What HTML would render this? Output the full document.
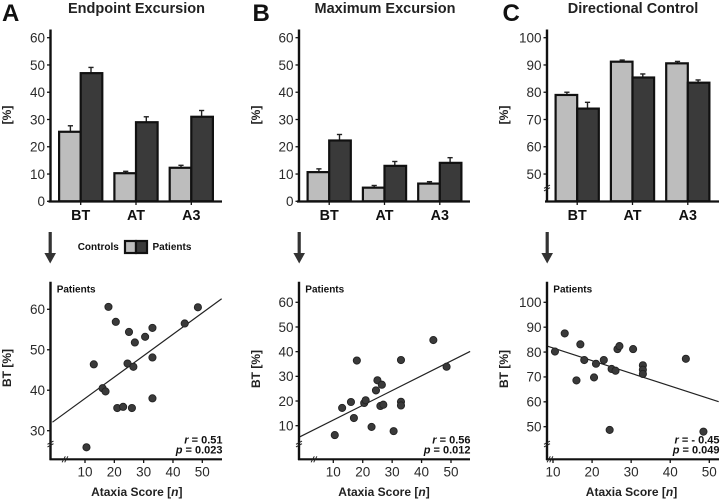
<!DOCTYPE html>
<html lang="en">
<head>
<meta charset="utf-8">
<title>Endpoint Excursion, Maximum Excursion, Directional Control</title>
<style>
html,body{margin:0;padding:0;background:#fff;}
svg{display:block;font-family:"Liberation Sans",sans-serif;fill:#222;}
.panel{font-size:24px;font-weight:bold;fill:#111;}
.title{font-size:14.5px;font-weight:bold;text-anchor:middle;}
.tick{font-size:13.5px;fill:#2a2a2a;}
.cat{font-size:14.3px;font-weight:bold;text-anchor:middle;fill:#111;}
.ylab{font-size:12px;font-weight:bold;text-anchor:middle;}
.xlab{font-size:12px;font-weight:bold;text-anchor:middle;}
.small{font-size:10px;font-weight:bold;fill:#111;}
.stat{font-size:11px;font-weight:bold;text-anchor:end;fill:#111;}
</style>
</head>
<body>
<svg id="figure" width="720" height="500" viewBox="0 0 720 500" xmlns="http://www.w3.org/2000/svg">
  <text class="panel" x="2" y="21">A</text>
  <text class="panel" x="252.5" y="21">B</text>
  <text class="panel" x="502.5" y="21">C</text>
  <text class="title" x="136.5" y="13">Endpoint Excursion</text>
  <text class="title" x="385" y="13">Maximum Excursion</text>
  <text class="title" x="633" y="13">Directional Control</text>

  <text class="ylab" transform="translate(11,115) rotate(-90)">[%]</text>
  <text class="ylab" transform="translate(260,115) rotate(-90)">[%]</text>
  <text class="ylab" transform="translate(508,115) rotate(-90)">[%]</text>

  <g>
    <text class="small" x="77.7" y="250">Controls</text>
    <rect x="125" y="241" width="11" height="12" fill="#bdbdbd" stroke="#111" stroke-width="2.2"/>
    <rect x="136" y="241" width="11" height="12" fill="#3a3a3a" stroke="#111" stroke-width="2.2"/>
    <text class="small" x="152.5" y="250">Patients</text>
  </g>

  <path d="M48.6 232h3.2v21h4.2l-5.8 10.5l-5.8-10.5h4.2z" fill="#333"/>
  <path d="M297.6 232h3.2v21h4.2l-5.8 10.5l-5.8-10.5h4.2z" fill="#333"/>
  <path d="M545.6 232h3.2v21h4.2l-5.8 10.5l-5.8-10.5h4.2z" fill="#333"/>

  <text class="small" x="56.7" y="292.7">Patients</text>
  <text class="small" x="305.3" y="292.7">Patients</text>
  <text class="small" x="553.3" y="292.7">Patients</text>

  <text class="ylab" transform="translate(11,368) rotate(-90)">BT [%]</text>
  <text class="ylab" transform="translate(260,369) rotate(-90)">BT [%]</text>
  <text class="ylab" transform="translate(508,369) rotate(-90)">BT [%]</text>

  <text class="xlab" x="136.8" y="496">Ataxia Score [<tspan font-style="italic">n</tspan>]</text>
  <text class="xlab" x="384" y="496">Ataxia Score [<tspan font-style="italic">n</tspan>]</text>
  <text class="xlab" x="631.5" y="496">Ataxia Score [<tspan font-style="italic">n</tspan>]</text>

  <text class="stat" x="222.5" y="443.5"><tspan font-style="italic">r</tspan> = 0.51</text>
  <text class="stat" x="222.5" y="453.5"><tspan font-style="italic">p</tspan> = 0.023</text>
  <text class="stat" x="470.5" y="443.5"><tspan font-style="italic">r</tspan> = 0.56</text>
  <text class="stat" x="470.5" y="453.5"><tspan font-style="italic">p</tspan> = 0.012</text>
  <text class="stat" x="719.5" y="443.5"><tspan font-style="italic">r</tspan> = - 0.45</text>
  <text class="stat" x="719.5" y="453.5"><tspan font-style="italic">p</tspan> = 0.049</text>
</svg>
<script>
const barCategories = ['BT', 'AT', 'A3'];

const barTicksA = [0, 10, 20, 30, 40, 50, 60];
const controlsA = [25.5, 10.3, 12.3];
const patientsA = [47, 29, 31];
const controlsErrTopA = [27.7, 11, 13.2];
const patientsErrTopA = [49.1, 31, 33.3];

const barTicksB = [0, 10, 20, 30, 40, 50, 60];
const controlsB = [10.7, 5, 6.5];
const patientsB = [22.3, 13, 14.1];
const controlsErrTopB = [11.9, 5.8, 7.2];
const patientsErrTopB = [24.5, 14.6, 16];

const barTicksC = [50, 60, 70, 80, 90, 100];
const controlsC = [79, 91.2, 90.6];
const patientsC = [74, 85.4, 83.5];
const controlsErrTopC = [80, 91.8, 91.3];
const patientsErrTopC = [76.3, 86.7, 84.5];

const ataxiaScores = [10.5, 13, 16, 17, 18, 20.5, 21, 23, 24.5, 25, 26, 26.5, 27, 30.5, 33, 33, 33, 44, 48.5];
const scatterValuesA = [25.9, 46.4, 40.5, 39.7, 60.6, 56.9, 35.6, 35.9, 46.6, 54.4, 35.6, 45.8, 51.8, 53.2, 55.4, 48.1, 38, 56.5, 60.5];
const scatterValuesB = [6.2, 17.2, 19.6, 13.1, 36.4, 19.2, 20.3, 9.5, 24.3, 28.4, 18, 26.6, 18.5, 7.8, 36.6, 19.7, 18.2, 44.7, 33.9];
const scatterValuesC = [80.2, 87.5, 68.6, 83.1, 76.8, 69.8, 75.3, 76.8, 48.7, 73.2, 72.5, 81.2, 82.4, 81.2, 74.7, 72.9, 71.2, 77.3, 48];

const scatterXTicks = [10, 20, 30, 40, 50];
const scatterYTicksA = [30, 40, 50, 60];
const scatterYTicksB = [10, 20, 30, 40, 50, 60];
const scatterYTicksC = [50, 60, 70, 80, 90, 100];

const trendXA = [-1.1, 56.6];
const trendYA = [32.1, 62.6];
const trendXB = [-1.7, 56.5];
const trendYB = [5.3, 40.1];
const trendXC = [8.5, 52.4];
const trendYC = [82.4, 60.05];

const svg = document.getElementById('figure');
const NS = 'http://www.w3.org/2000/svg';

function make(tag, attrs, parent) {
  const el = document.createElementNS(NS, tag);
  for (const k in attrs) el.setAttribute(k, attrs[k]);
  parent.appendChild(el);
  return el;
}
function linearScale(v0, p0, v1, p1) {
  return function (v) { return p0 + (v - v0) * (p1 - p0) / (v1 - v0); };
}
function drawBreak(cx, cy, horizontal, parent) {
  const g = make('g', {stroke: '#222', 'stroke-width': 1, fill: 'none'}, parent);
  
  
  for (const d of [-1.3, 1.3]) {
    if (horizontal) make('line', {x1: cx + d - 1.6, y1: cy + 3, x2: cx + d + 1.6, y2: cy - 3}, g);
    else make('line', {x1: cx - 3, y1: cy + d + 1.6, x2: cx + 3, y2: cy + d - 1.6}, g);
  }
}
function drawYAxis(name, axisX, top, bottom, ticks, y, parent) {
  const g = make('g', {}, parent);
  
  
  make('line', {x1: axisX, y1: top, x2: axisX, y2: bottom, stroke: '#111', 'stroke-width': 2.4}, g);
  ticks.forEach(function (t) {
    make('line', {x1: axisX - 3.5, y1: y(t), x2: axisX, y2: y(t), stroke: '#111', 'stroke-width': 1.3}, g);
    const label = make('text', {class: 'tick', x: axisX - 5.5, y: y(t) + 4.8, 'text-anchor': 'end'}, g);
    label.textContent = t;
  });
}

function drawBars(name, cfg, ctrl, pat, ctrlErr, patErr, ticks) {
  const g = make('g', {}, svg);
  
  
  const y = linearScale(cfg.vBase, 201.3, cfg.vTop, 37.7);
  const barW = 21.6;
  const step = 55.3;
  function errorBar(cx, from, to, parent) {
    make('line', {x1: cx, y1: y(from), x2: cx, y2: y(to), stroke: '#222', 'stroke-width': 1.4}, parent);
    make('line', {x1: cx - 2.6, y1: y(to), x2: cx + 2.6, y2: y(to), stroke: '#222', 'stroke-width': 1.4}, parent);
  }
  barCategories.forEach(function (cat, i) {
    const left = cfg.axisX + 8.6 + i * step;
    errorBar(left + barW / 2 + 0.5, ctrl[i], ctrlErr[i], g);
    errorBar(left + barW * 1.5 - 0.5, pat[i], patErr[i], g);
    const c = make('rect', {x: left, y: y(ctrl[i]), width: barW, height: 201.3 - y(ctrl[i]), fill: '#bdbdbd', stroke: '#111', 'stroke-width': 2.2}, g);
    
    
    const p = make('rect', {x: left + barW, y: y(pat[i]), width: barW, height: 201.3 - y(pat[i]), fill: '#3a3a3a', stroke: '#111', 'stroke-width': 2.2}, g);
    
    
    make('line', {x1: left + barW, y1: 201.3, x2: left + barW, y2: 205, stroke: '#111', 'stroke-width': 1.3}, g);
    const label = make('text', {class: 'cat', x: left + barW, y: 220}, g);
    
    
    label.textContent = cat;
  });
  drawYAxis(name + '-y-axis', cfg.axisX, 29.5, 202.5, ticks, y, g);
  make('line', {x1: cfg.axisX - 2, y1: 201.5, x2: cfg.xEnd, y2: 201.5, stroke: '#111', 'stroke-width': 2.2}, g);
  if (cfg.breakY) drawBreak(cfg.axisX, cfg.breakY, false, g);
}

function drawScatter(name, cfg, xs, ys, yTicks, trendX, trendY) {
  const g = make('g', {}, svg);
  
  
  const x = linearScale(10, cfg.x10, 50, cfg.x50);
  const y = linearScale(cfg.vA, cfg.yA, cfg.vB, cfg.yB);
  const trend = make('line', {x1: x(trendX[0]), y1: y(trendY[0]), x2: x(trendX[1]), y2: y(trendY[1]), stroke: '#222', 'stroke-width': 1.2}, g);
  
  
  xs.forEach(function (v, i) {
    const dot = make('circle', {cx: x(v), cy: y(ys[i]), r: 3.6, fill: '#3a3a3a', stroke: '#222', 'stroke-width': 0.9}, g);
    
    
  });
  drawYAxis(name + '-y-axis', cfg.axisX, 281.7, 460, yTicks, y, g);
  make('line', {x1: cfg.axisX - 1, y1: 459.3, x2: cfg.xEnd, y2: 459.3, stroke: '#111', 'stroke-width': 2.2}, g);
  scatterXTicks.forEach(function (t) {
    make('line', {x1: x(t), y1: 459.3, x2: x(t), y2: 463, stroke: '#111', 'stroke-width': 1.3}, g);
    const label = make('text', {class: 'tick', x: x(t), y: 476.5, 'text-anchor': 'middle'}, g);
    
    
    label.textContent = t;
  });
  drawBreak(cfg.axisX, 444, false, g);
  drawBreak(cfg.breakX, 459.3, true, g);
}

drawBars('bar-chart-a', {axisX: 50.5, xEnd: 222, vBase: 0, vTop: 60}, controlsA, patientsA, controlsErrTopA, patientsErrTopA, barTicksA);
drawBars('bar-chart-b', {axisX: 299, xEnd: 470, vBase: 0, vTop: 60}, controlsB, patientsB, controlsErrTopB, patientsErrTopB, barTicksB);
drawBars('bar-chart-c', {axisX: 547, xEnd: 719, vBase: 40, vTop: 100, breakY: 188}, controlsC, patientsC, controlsErrTopC, patientsErrTopC, barTicksC);

drawScatter('scatter-a', {axisX: 50.5, xEnd: 222, x10: 85, x50: 202.3, vA: 60, yA: 309.3, vB: 30, yB: 430.7, breakX: 65}, ataxiaScores, scatterValuesA, scatterYTicksA, trendXA, trendYA);
drawScatter('scatter-b', {axisX: 299, xEnd: 470, x10: 333.3, x50: 451, vA: 60, yA: 302.3, vB: 10, yB: 425.7, breakX: 314}, ataxiaScores, scatterValuesB, scatterYTicksB, trendXB, trendYB);
drawScatter('scatter-c', {axisX: 547, xEnd: 719, x10: 553, x50: 709.3, vA: 100, yA: 302.3, vB: 50, yB: 426.7, breakX: 550}, ataxiaScores, scatterValuesC, scatterYTicksC, trendXC, trendYC);
</script>
</body>
</html>
